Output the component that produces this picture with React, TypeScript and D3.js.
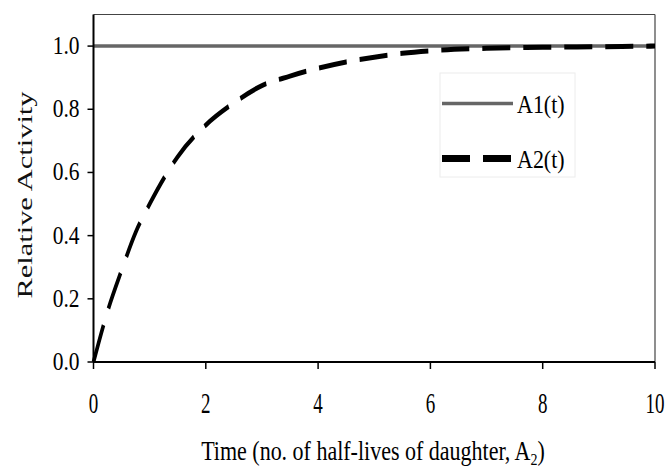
import React, { useEffect, useRef } from 'react';
import * as d3 from 'd3';

// time in half-lives of the daughter
const timeHalfLives = [0, 0.25, 0.5, 0.75, 1, 1.5, 2, 2.5, 3, 3.5, 4, 4.5, 5, 5.5, 6, 7, 8, 9, 10];
// parent activity (flat)
const a1Values = [1, 1, 1, 1, 1, 1, 1, 1, 1, 1, 1, 1, 1, 1, 1, 1, 1, 1, 1];
// daughter activity
const a2Values = [0, 0.16, 0.29, 0.41, 0.5, 0.65, 0.75, 0.82, 0.875, 0.905, 0.93, 0.95, 0.965, 0.977, 0.985, 0.993, 0.996, 0.998, 1.0];

const xTicks = [0, 2, 4, 6, 8, 10];
const yTicks = [0, 0.2, 0.4, 0.6, 0.8, 1.0];
const seriesNames = ['A1(t)', 'A2(t)'];

const FONT = '"Liberation Serif", "DejaVu Serif", serif';
// the source picture is stretched vertically, so marks are drawn squashed and scaled back up
const STRETCH = 1.4;

export default function App() {
  const svgRef = useRef<SVGSVGElement>(null);

  useEffect(() => {
    const svg = d3.select(svgRef.current);
    svg.selectAll('*').remove();

    const W = 668;
    const H = 474;
    const margin = { top: 14.5, right: 13, bottom: 112, left: 93.5 };

    svg.attr('width', W).attr('height', H);
    svg.append('rect').attr('width', W).attr('height', H).attr('fill', '#fff');

    const x = d3.scaleLinear().domain([0, 10]).range([margin.left, W - margin.right]);
    const y = d3.scaleLinear().domain([0, 1.1]).range([H - margin.bottom, margin.top]);

    // frame: thin top/right
    svg.append('line')
      .attr('x1', x(0)).attr('x2', x(10))
      .attr('y1', y(1.1)).attr('y2', y(1.1))
      .attr('stroke', '#444').attr('stroke-width', 1.2);
    svg.append('line')
      .attr('x1', x(10)).attr('x2', x(10))
      .attr('y1', y(1.1)).attr('y2', y(0))
      .attr('stroke', '#444').attr('stroke-width', 1.2);

    // legend box (very faint)
    svg.append('rect').attr('x', 440).attr('y', 73).attr('width', 135).attr('height', 104)
      .attr('fill', 'none').attr('stroke', '#ececec').attr('stroke-width', 1);

    // series, drawn in a squashed frame then stretched
    const y0 = y(0);
    const line = d3.line<number>()
      .x((_, i) => x(timeHalfLives[i]))
      .y(d => (y(d) - y0) / STRETCH)
      .curve(d3.curveMonotoneX);
    const plot = svg.append('g').attr('transform', `translate(0,${y0}) scale(1,${STRETCH})`);
    plot.append('path').attr('d', line(a1Values))
      .attr('fill', 'none').attr('stroke', '#666').attr('stroke-width', 2.5);
    plot.append('path').attr('d', line(a2Values))
      .attr('fill', 'none').attr('stroke', '#000').attr('stroke-width', 3.6)
      .attr('stroke-dasharray', '28,13');

    // axes
    const gx = svg.append('g').attr('transform', `translate(0,${y(0)})`);
    gx.append('line').attr('x1', x(0)).attr('x2', x(10)).attr('stroke', '#000').attr('stroke-width', 2);
    xTicks.forEach(t => {
      gx.append('line').attr('x1', x(t)).attr('x2', x(t)).attr('y1', 0).attr('y2', 7)
        .attr('stroke', '#000').attr('stroke-width', 1.5);
      gx.append('text')
        .attr('transform', `translate(${x(t)},${51}) scale(1,1.5)`)
        .attr('text-anchor', 'middle')
        .attr('font-family', FONT).attr('font-size', 19).attr('fill', '#000')
        .text(String(t));
    });

    const gy = svg.append('g').attr('transform', `translate(${x(0)},0)`);
    gy.append('line').attr('y1', y(1.1)).attr('y2', y(0)).attr('stroke', '#000').attr('stroke-width', 2);
    yTicks.forEach(t => {
      gy.append('line').attr('x1', -6).attr('x2', 0).attr('y1', y(t)).attr('y2', y(t))
        .attr('stroke', '#000').attr('stroke-width', 1.5);
      gy.append('text')
        .attr('transform', `translate(-14,${y(t) + 8}) scale(1,1.15)`)
        .attr('text-anchor', 'end')
        .attr('font-family', FONT).attr('font-size', 21.5).attr('fill', '#000')
        .text(t.toFixed(1));
    });

    // axis titles
    const xt = svg.append('text')
      .attr('transform', `translate(373,460) scale(1,1.25)`)
      .attr('text-anchor', 'middle')
      .attr('font-family', FONT).attr('font-size', 22).attr('fill', '#000');
    xt.append('tspan').text('Time (no. of half-lives of daughter, A');
    xt.append('tspan').attr('font-size', 14).attr('dy', 4).text('2');
    xt.append('tspan').attr('dy', -4).text(')');

    svg.append('text')
      .attr('transform', `translate(32,195) rotate(-90) scale(1.45,1)`)
      .attr('text-anchor', 'middle')
      .attr('font-family', FONT).attr('font-size', 21).attr('fill', '#111')
      .text('Relative Activity');

    // legend entries
    seriesNames.forEach((name, i) => {
      const cy = 103.5 + i * 55;
      svg.append('line').attr('x1', 442).attr('x2', 513).attr('y1', cy).attr('y2', cy)
        .attr('stroke', i === 0 ? '#666' : '#000')
        .attr('stroke-width', i === 0 ? 3.5 : 7)
        .attr('stroke-dasharray', i === 0 ? null : '28,13');
      svg.append('text')
        .attr('transform', `translate(517,${cy + 9.5}) scale(1,1.1)`)
        .attr('font-family', FONT).attr('font-size', 22).attr('fill', '#000')
        .text(name);
    });
  }, []);

  return (
    <svg ref={svgRef} style={{ position: 'absolute', left: 0, top: 0, display: 'block' }} />
  );
}
